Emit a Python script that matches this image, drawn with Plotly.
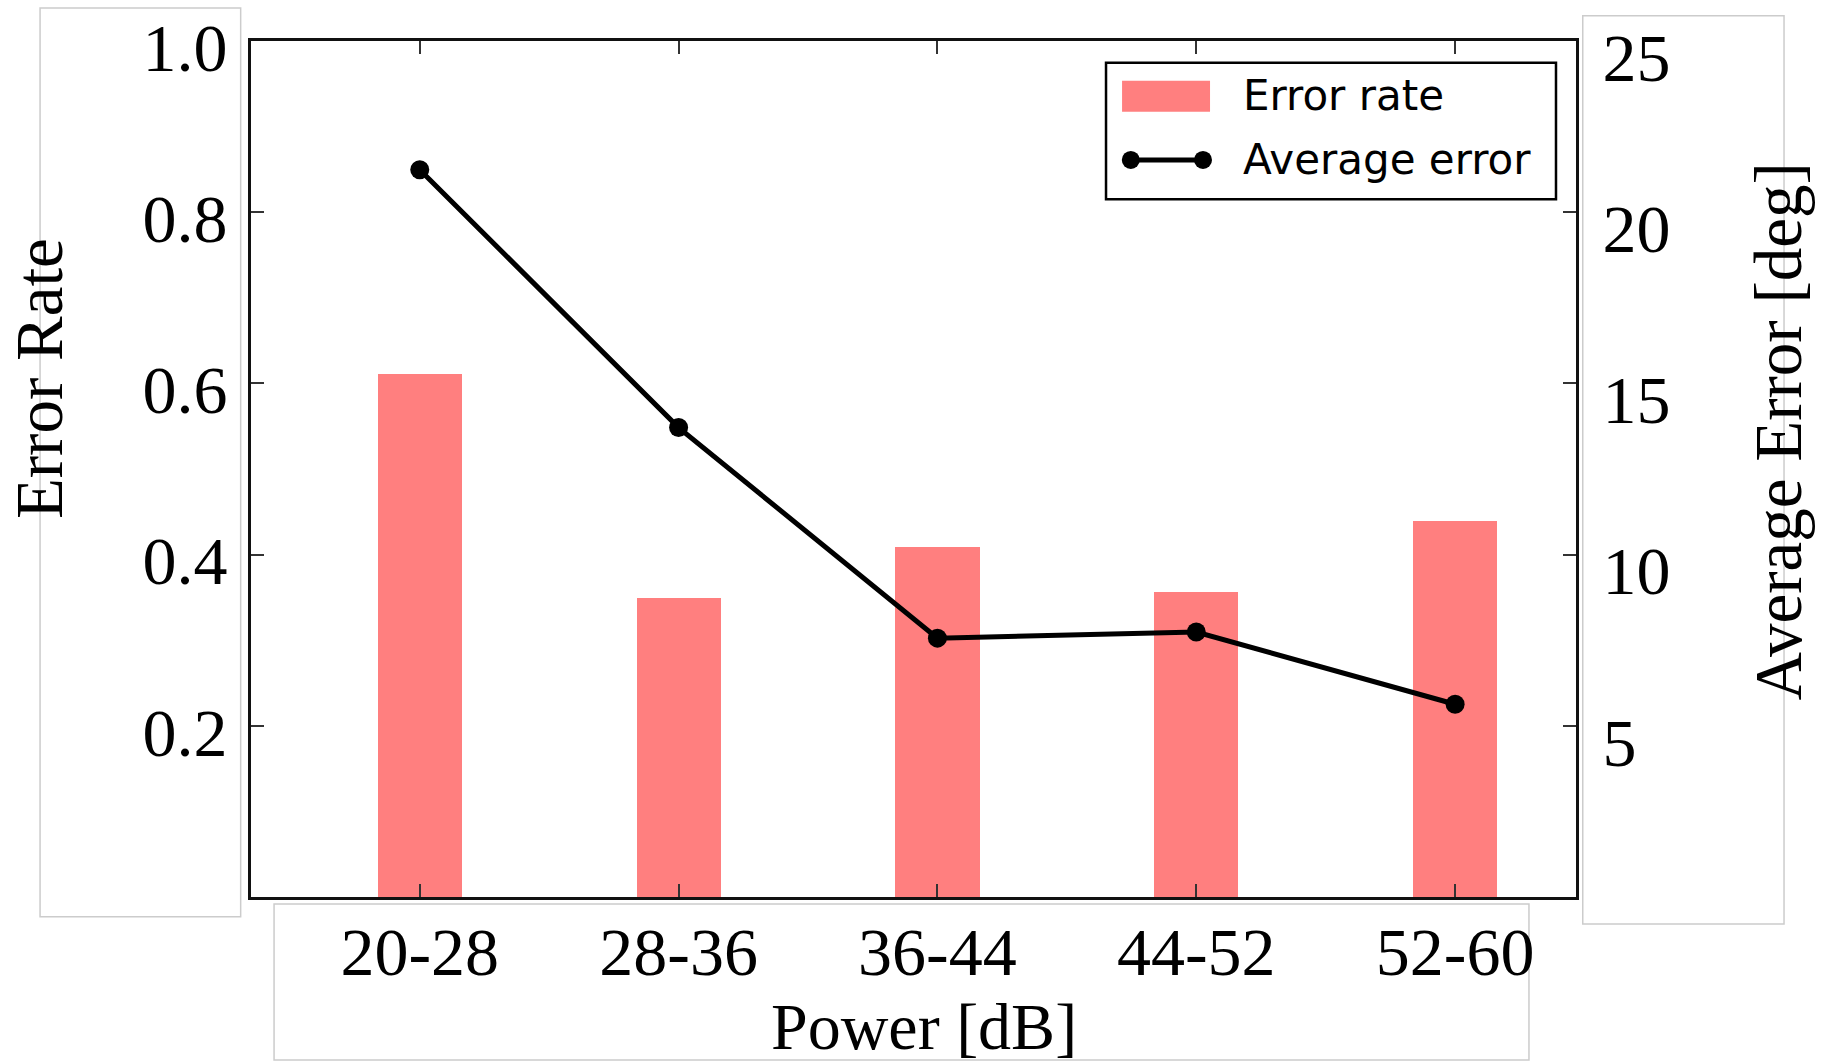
import plotly.graph_objects as go

categories = ["20-28", "28-36", "36-44", "44-52", "52-60"]
error_rate = [0.611, 0.349, 0.409, 0.356, 0.439]
average_error = [21.24, 13.71, 7.56, 7.74, 5.63]
left_ticks = [0.2, 0.4, 0.6, 0.8, 1.0]
right_ticks = [5, 10, 15, 20, 25]

SERIF = "Liberation Serif, Times New Roman, serif"
SANS = "DejaVu Sans, sans-serif"
BAR_COLOR = "#FF7F7F"

fig = go.Figure()
fig.add_trace(go.Bar(
    x=categories, y=error_rate, name="Error rate",
    marker=dict(color=BAR_COLOR, line=dict(width=0)),
    width=0.325, yaxis="y", showlegend=False,
))
fig.add_trace(go.Scatter(
    x=categories, y=average_error, name="Average error",
    mode="lines+markers",
    line=dict(color="black", width=5),
    marker=dict(color="black", size=19),
    yaxis="y2", showlegend=False,
))

axis_common = dict(
    showline=True, linecolor="#111", linewidth=3,
    ticks="inside", ticklen=13, tickwidth=1.5, tickcolor="#333",
    showgrid=False, zeroline=False, automargin=False,
    tickfont=dict(family=SERIF, size=68, color="black"),
)

fig.update_layout(
    width=1827, height=1062,
    margin=dict(l=251, r=251, t=41, b=165, pad=0),
    paper_bgcolor="white", plot_bgcolor="white",
    showlegend=False,
    xaxis=dict(
        type="category", range=[-0.652, 4.467],
        mirror="ticks", ticklabelstandoff=-7,
        **axis_common,
    ),
    yaxis=dict(
        range=[0, 1.0], tickvals=left_ticks, tickformat=".1f",
        ticklabelshift=6, ticklabelstandoff=7,
        **axis_common,
    ),
    yaxis2=dict(
        range=[0, 25], tickvals=right_ticks, overlaying="y", side="right",
        ticklabelshift=16, ticklabelstandoff=10,
        **axis_common,
    ),
    bargap=0,
)

# light gray frames around the label areas
gray = dict(color="#cccccc", width=1.5)
fig.add_shape(type="rect", xref="paper", yref="paper",
              x0=-0.1592, x1=-0.0078, y0=-0.0230, y1=1.0386, line=gray, layer="below")
fig.add_shape(type="rect", xref="paper", yref="paper",
              x0=0.0174, x1=0.9645, y0=-0.1904, y1=-0.0082, line=gray, layer="below")
fig.add_shape(type="rect", xref="paper", yref="paper",
              x0=1.0051, x1=1.157, y0=-0.0315, y1=1.0296, line=gray, layer="below")

# legend (drawn as a framed box with swatches and text)
fig.add_shape(type="rect", xref="paper", yref="paper",
              x0=0.6453, x1=0.9849, y0=0.8151, y1=0.9747,
              line=dict(color="black", width=2.5), fillcolor="white", layer="above")
fig.add_shape(type="rect", xref="paper", yref="paper",
              x0=0.6574, x1=0.7238, y0=0.9174, y1=0.9536,
              line=dict(width=0), fillcolor=BAR_COLOR, layer="above")
fig.add_shape(type="line", xref="paper", yref="paper",
              x0=0.6640, x1=0.7185, y0=0.8610, y1=0.8610,
              line=dict(color="black", width=5), layer="above")
for cx in (0.6640, 0.7185):
    fig.add_shape(type="circle", xref="paper", yref="paper",
                  xsizemode="pixel", ysizemode="pixel",
                  xanchor=cx, yanchor=0.8610, x0=-9, x1=9, y0=-9, y1=9,
                  line=dict(width=0), fillcolor="black", layer="above")
fig.add_annotation(text="Error rate", xref="paper", yref="paper",
                   x=0.7475, y=0.9358, xanchor="left", yanchor="middle",
                   showarrow=False, font=dict(family=SANS, size=42, color="black"))
fig.add_annotation(text="Average error", xref="paper", yref="paper",
                   x=0.7475, y=0.8610, xanchor="left", yanchor="middle",
                   showarrow=False, font=dict(family=SANS, size=42, color="black"))

# axis titles
fig.add_annotation(text="Error Rate", xref="paper", yref="paper",
                   x=-0.160, y=0.605, textangle=-90, showarrow=False,
                   xanchor="center", yanchor="middle",
                   font=dict(family=SERIF, size=67, color="black"))
fig.add_annotation(text="Average Error [deg]", xref="paper", yref="paper",
                   x=1.1525, y=0.544, textangle=-90, showarrow=False,
                   xanchor="center", yanchor="middle",
                   font=dict(family=SERIF, size=67, color="black"))
fig.add_annotation(text="Power [dB]", xref="paper", yref="paper",
                   x=0.508, y=-0.151, showarrow=False,
                   xanchor="center", yanchor="middle",
                   font=dict(family=SERIF, size=66, color="black"))

fig.write_html(
    "out.html",
    config={"displayModeBar": False},
    post_script="document.body.style.margin='0';document.body.style.overflow='hidden';",
)
